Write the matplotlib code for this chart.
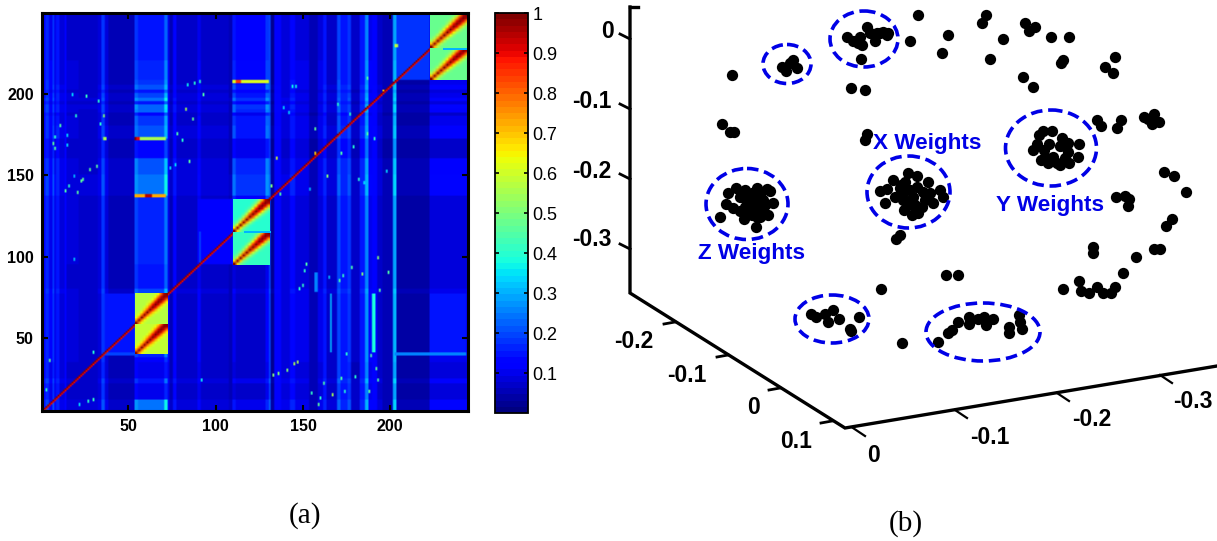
import numpy as np
import matplotlib
matplotlib.use('Agg')
import matplotlib.pyplot as plt
from matplotlib.patches import Ellipse

plt.rcParams['font.family'] = ['Liberation Sans', 'DejaVu Sans']

# heatmap background
col_starts = [1, 3, 5, 7, 8, 9, 11, 14, 15, 22, 33, 35, 37, 39, 54, 56, 71, 73, 74, 76, 78, 90, 92, 108, 110, 112,
              129, 132, 134, 138, 143, 146, 154, 159, 162, 164, 170, 172, 176, 178, 183, 186, 188, 190, 193, 196,
              202, 204, 223]
col_levels = [.13, .17, .11, .18, .1, .15, .09, .12, .08, .07, .09, .18, .09, .06, .2, .17, .26, .11, .06, .13, .075,
              .11, .075, .055, .17, .13, .2, .03, .12, .085, .14, .095, .05, .095, .15, .075, .2, .15, .18, .065,
              .15, .27, .11, .12, .075, .05, .3, .045, .095]
row_starts = [5, 12, 22, 25, 35, 39, 77, 80, 95, 137, 150, 160, 172, 180, 186, 188, 190, 193, 195, 197, 200, 202,
              205, 208, 220]
row_gains = [1.4, .9, 1.3, .85, 1, 1, 1.15, .9, .95, 1.4, 1.25, .75, 1.2, 1.1, .8, 1.3, 1.35, .85, 1.4, 1.15, .85,
             1.2, 1.05, 1, .9]
# columns where the row bands show at full strength; elsewhere they are faint
strong_x0 = [54, 110, 223]
strong_x1 = [73, 131, 245]
faint_share = .35

# regions that are darker (factor) or lighter (floor) than the bands give
dark_x0 = [110, 54]
dark_x1 = [131, 73]
dark_y0 = [5, 12]
dark_y1 = [95, 38]
dark_factor = [.6, .7]
floor_x0 = [36, 90, 203, 223]
floor_x1 = [54, 110, 223, 244]
floor_y0 = [40, 95, 208, 40]
floor_y1 = [77, 135, 250, 77]
floor_value = [.15, .12, .18, .15]

# blocks with a wedge along the diagonal
block_x0 = [54, 54, 110, 110, 223, 223]
block_x1 = [72.5, 72.5, 131, 131, 244.5, 244.5]
block_y0 = [40, 58.5, 95, 115, 208.5, 228.5]
block_y1 = [58.5, 77, 115, 135, 228.5, 249]
block_floor = [.58, .57, .41, .4, .47, .47]
wedge = [
    [1.0, .45, .15, .05, 0, 0, 0, 0, 0, 0, 0, 0],
    [.45, .95, .45, .15, .05, 0, 0, 0, 0, 0, 0, 0],
    [.15, .45, 1.0, .5, .2, .05, 0, 0, 0, 0, 0, 0],
    [.05, .15, .5, .95, .55, .25, .08, 0, 0, 0, 0, 0],
    [0, .05, .2, .55, 1.0, .6, .3, .1, .02, 0, 0, 0],
    [0, 0, .05, .25, .6, 1.0, .7, .35, .12, .03, 0, 0],
    [0, 0, 0, .08, .3, .7, 1.0, .75, .4, .15, .04, 0],
    [0, 0, 0, 0, .1, .35, .75, 1.0, .8, .45, .18, .05],
    [0, 0, 0, 0, .02, .12, .4, .8, 1.0, .85, .5, .2],
    [0, 0, 0, 0, 0, .03, .15, .45, .85, 1.0, .85, .55],
    [0, 0, 0, 0, 0, 0, .04, .18, .5, .85, 1.0, .9],
    [0, 0, 0, 0, 0, 0, 0, .05, .2, .55, .9, 1.0],
]

# thin bright row and column streaks
hstreak_y = [136, 171, 206, 39, 39, 115, 228]
hstreak_x0 = [54, 54, 110, 203, 36, 116, 230]
hstreak_x1 = [72, 72, 131, 244, 54, 131, 244]
hstreak_val = [.72, .56, .62, .26, .2, .3, .3]
hot_x = [60, 62, 54, 55, 112, 113]
hot_y = [136, 136, 171, 171, 206, 206]
hot_val = [.95, .95, 1.0, .9, .85, .85]
vstreak_x = [166, 190, 191, 91, 157, 158]
vstreak_y0 = [41, 41, 41, 95, 78, 78]
vstreak_y1 = [77, 77, 77, 115, 90, 90]
vstreak_val = [.3, .38, .38, .2, .25, .25]

# bright specks
spot_x = [26, 18, 20, 36, 11, 34, 36, 37, 7, 8, 8, 15, 15, 83, 87, 78, 81, 93, 84, 88, 91, 85, 77, 74, 32, 28, 24, 23,
          16, 21, 14, 19, 33, 144, 146, 139, 142, 157, 157, 135, 132, 137, 164, 172, 179, 177, 170, 187, 191, 187,
          196, 203, 204, 198, 185, 182, 154, 151, 152, 150, 148, 165, 171, 173, 184, 178, 193, 199, 194, 189, 192,
          193, 188, 174, 167, 162, 155, 160, 159, 172, 180, 133, 136, 141, 145, 147, 175, 5, 3, 30, 19, 92, 27, 30,
          22]
spot_y = [197, 198, 185, 185, 179, 180, 171, 171, 168, 165, 172, 173, 167, 189, 183, 174, 170, 198, 204, 205, 206,
          157, 155, 153, 154, 152, 146, 145, 142, 138, 139, 148, 194, 203, 203, 190, 187, 177, 162, 159, 142, 137,
          148, 162, 166, 186, 192, 174, 171, 208, 200, 228, 228, 151, 144, 146, 140, 90, 94, 81, 79, 86, 84, 87, 88,
          92, 98, 89, 78, 38, 30, 23, 16, 16, 14, 21, 15, 12, 8, 24, 25, 26, 27, 29, 33, 34, 39, 35, 17, 40, 97, 23,
          10, 11, 8]
spot_val = [.42, .34, .4, .5, .45, .4, .55, .55, .46, .44, .4, .34, .34, .55, .46, .44, .4, .44, .36, .4, .4, .46,
            .34, .34, .46, .46, .46, .46, .4, .46, .44, .3, .4, .36, .36, .34, .34, .46, .7, .6, .5, .44, .5, .44,
            .4, .4, .4, .44, .4, .44, .7, .6, .55, .34, .34, .4, .3, .42, .44, .42, .4, .3, .44, .42, .5, .44, .5,
            .44, .46, .44, .44, .44, .46, .4, .55, .44, .42, .4, .46, .44, .4, .5, .5, .5, .55, .55, .4, .46, .4, .4,
            .3, .36, .4, .42, .34]

cbar_ticks = [.1, .2, .3, .4, .5, .6, .7, .8, .9, 1]
cbar_labels = ['0.1', '0.2', '0.3', '0.4', '0.5', '0.6', '0.7', '0.8', '0.9', '1']
heat_ticks_x = [50, 100, 150, 200]
heat_ticks_y = [50, 100, 150, 200]

# right panel, the points as they lie in the projected picture
pts_x = [732, 722, 730, 734, 851, 865, 867, 865, 861,
         782, 786, 790, 793, 797,
         847, 853, 858, 862, 860, 867, 870, 875, 877, 883, 888, 880, 887,
         720, 728, 726, 736, 733, 740, 745, 757, 767, 748, 753, 740, 744, 757, 760, 768, 773, 756, 750, 763, 745,
         757, 752, 760, 770, 750, 755, 760, 748, 762, 752, 745, 765,
         918, 910, 948, 942, 986, 982, 1003, 990, 1025, 1035, 1029, 1051, 1069, 1023, 1033, 1063, 1061, 1115, 1105,
         1113, 1097, 1101, 1121, 1117, 1144, 1154, 1159, 1152, 1148, 1164, 1174, 1186, 1116, 1125, 1129, 1128, 1172,
         1166, 1093, 1093, 1154, 1160, 1136, 900, 896,
         1043, 1052, 1039, 1062, 1037, 1049, 1033, 1060, 1068, 1079, 1068, 1078, 1041, 1048, 1060, 1069, 1053, 1065,
         1057, 1045, 1044, 1066,
         893, 901, 908, 917, 928, 940, 943, 933, 885, 887, 880, 895, 903, 904, 912, 918, 922, 913, 925, 917, 923,
         930, 910, 903, 900, 908, 915, 905,
         881, 811, 816, 825, 833, 828, 839, 859, 850, 851,
         946, 958, 902, 938, 948, 952, 958, 969, 969, 978, 984, 986, 993, 1009, 1009, 1019, 1020, 1022,
         1063, 1079, 1081, 1089, 1097, 1103, 1111, 1115, 1123]
pts_y = [75, 124, 132, 132, 88, 90, 134, 140, 59,
         67, 71, 63, 60, 68,
         37, 41, 43, 45, 37, 27, 33, 41, 33, 32, 33, 33, 35,
         217, 193, 204, 188, 208, 197, 190, 188, 189, 200, 203, 211, 219, 217, 208, 215, 203, 227, 210, 200, 207,
         197, 193, 217, 191, 195, 205, 195, 212, 212, 215, 198, 205,
         15, 41, 35, 53, 15, 23, 39, 59, 23, 27, 31, 37, 37, 77, 87, 60, 63, 57, 67,
         73, 120, 126, 120, 128, 117, 114, 122, 124, 119, 172, 176, 192, 197, 196, 199, 206, 219,
         226, 247, 253, 249, 249, 257, 235, 239,
         131, 131, 135, 138, 144, 144, 150, 146, 143, 144, 152, 157, 160, 163, 165, 163, 157, 158,
         163, 157, 150, 147,
         180, 185, 173, 176, 182, 190, 197, 203, 203, 189, 191, 197, 200, 210, 215, 213, 207, 197, 200, 187, 192,
         193, 190, 193, 188, 205, 205, 182,
         289, 314, 317, 314, 310, 322, 319, 317, 329, 331,
         275, 275, 343, 342, 333, 330, 322, 317, 324, 319, 317, 325, 319, 327, 333, 315, 322, 329,
         289, 281, 291, 293, 287, 293, 293, 287, 273]

ring_x = [787, 864, 747, 908.5, 1051, 832, 983]
ring_y = [64, 39, 204, 192, 148, 319, 332]
ring_w = [48, 68, 82, 83, 91, 74, 114]
ring_h = [39, 56, 71, 72, 76, 48, 58]

name_labels = ['Z Weights', 'X Weights', 'Y Weights']
name_x = [752, 927, 1050]
name_y = [253, 143, 205]

z_ticks_y = [37, 107, 177, 247]
z_labels = ['0', '-0.1', '-0.2', '-0.3']
z_label_x = [607, 592, 592, 592]
z_label_y = [31, 101, 172, 240]
left_tick_x = [675, 728, 780, 832]
left_tick_y = [322, 355, 388, 421]
left_labels = ['-0.2', '-0.1', '0', '0.1']
left_label_x = [634, 687, 753, 796]
left_label_y = [342, 375, 407, 441]
right_tick_x = [853, 955, 1057, 1160]
right_tick_y = [428, 410, 393, 375]
right_labels = ['0', '-0.1', '-0.2', '-0.3']
right_label_x = [874, 990, 1092, 1193]
right_label_y = [455, 437, 419, 401]

# build the matrix
n = 244
col_line = np.array(col_levels)[np.searchsorted(col_starts, np.arange(1, n + 1), side='right') - 1]
row_line = np.array(row_gains)[np.searchsorted(row_starts, np.arange(n) + 5, side='right') - 1]
share = np.full(n, faint_share)
for x0, x1 in zip(strong_x0, strong_x1):
    share[x0 - 1:x1 - 1] = 1.0
M = np.outer(np.ones(n), col_line) * (1 + np.outer(row_line - 1, share))

for x0, x1, y0, y1, f in zip(dark_x0, dark_x1, dark_y0, dark_y1, dark_factor):
    M[y0 - 5:y1 - 5, x0 - 1:x1 - 1] *= f
for x0, x1, y0, y1, v in zip(floor_x0, floor_x1, floor_y0, floor_y1, floor_value):
    M[y0 - 5:y1 - 5, x0 - 1:x1 - 1] = np.maximum(M[y0 - 5:y1 - 5, x0 - 1:x1 - 1], v)
for x, y0, y1, v in zip(vstreak_x, vstreak_y0, vstreak_y1, vstreak_val):
    M[y0 - 5:y1 - 5, x - 1] = v
for y, x0, x1, v in zip(hstreak_y[:5], hstreak_x0[:5], hstreak_x1[:5], hstreak_val[:5]):
    M[y - 5:y - 3, x0 - 1:x1 - 1] = v
for x, y, v in zip(hot_x, hot_y, hot_val):
    M[y - 5:y - 3, x - 1:x + 1] = v
for x, y, v in zip(spot_x, spot_y, spot_val):
    M[y - 5:y - 3, x - 1] = v
for i in range(n):
    M[i, i] = 1.0
    M[i, min(i + 1, n - 1)] = 0.9

fig = plt.figure(figsize=(12.17, 5.41), dpi=100)

# (a) heatmap
ax = fig.add_axes([42 / 1217, 130 / 541, 426 / 1217, 398 / 541])
jet = plt.get_cmap('jet', 64)
im = ax.imshow(M, origin='lower', extent=(0.5, 244.5, 5, 250), aspect='auto', cmap=jet, vmin=0, vmax=1,
               interpolation='bilinear')
for x0, x1, y0, y1, f in zip(block_x0, block_x1, block_y0, block_y1, block_floor):
    cells = f + (1 - f) * np.array(wedge)
    ax.imshow(cells, origin='lower', extent=(x0, x1, y0, y1), aspect='auto', cmap=jet, vmin=0, vmax=1,
              interpolation='bilinear')
for y, x0, x1, v in zip(hstreak_y[5:], hstreak_x0[5:], hstreak_x1[5:], hstreak_val[5:]):
    ax.imshow([[v, v]], origin='lower', extent=(x0, x1, y - 0.5, y + 0.5), aspect='auto', cmap=jet, vmin=0, vmax=1)
ax.set_xlim(0.5, 244.5)
ax.set_ylim(5, 250)
ax.set_xticks(heat_ticks_x)
ax.set_yticks(heat_ticks_y)
ax.tick_params(direction='in', length=4, width=1.5, top=True, right=True, pad=6, labelsize=11.5)
for lab in ax.get_xticklabels() + ax.get_yticklabels():
    lab.set_fontweight('bold')
for s in ax.spines.values():
    s.set_linewidth(2.2)

cax = fig.add_axes([495 / 1217, 128 / 541, 33 / 1217, 400 / 541])
cb = fig.colorbar(im, cax=cax, ticks=cbar_ticks)
cb.ax.set_yticklabels(cbar_labels)
cb.ax.tick_params(direction='in', length=3, width=1.2, left=True, right=True, labelsize=13, pad=3)
cb.outline.set_linewidth(1.3)

# (b) projected scatter, whole figure in pixels
pan = fig.add_axes([0, 0, 1, 1])
pan.set_xlim(0, 1217)
pan.set_ylim(541, 0)
pan.axis('off')
pan.patch.set_alpha(0)

pan.scatter(pts_x, pts_y, s=66, c='black', linewidths=0, zorder=3)
for x, y, w, h in zip(ring_x, ring_y, ring_w, ring_h):
    pan.add_patch(Ellipse((x, y), w, h, fill=False, ec='#0000e6', lw=2.6, ls=(0, (3.2, 1.6)), zorder=4))
for s, x, y in zip(name_labels, name_x, name_y):
    pan.text(x, y, s, color='#0000e6', fontsize=16.2, fontweight='bold', ha='center', va='center', zorder=5)

pan.plot([630, 630, 845, 1217], [7, 293, 428, 366], color='black', lw=2.4, solid_joinstyle='miter', zorder=2)
pan.plot([630, 638], [7, 7], color='black', lw=2.4, zorder=2)
for y in z_ticks_y:
    pan.plot([620, 630], [y - 3, y + 2], color='black', lw=2)
for x, y in zip(left_tick_x, left_tick_y):
    pan.plot([x - 11, x], [y + 2, y], color='black', lw=2)
for x, y in zip(right_tick_x, right_tick_y):
    pan.plot([x, x + 12], [y, y + 8], color='black', lw=1.6)
for labs, lx, ly in [(z_labels, z_label_x, z_label_y), (left_labels, left_label_x, left_label_y),
                     (right_labels, right_label_x, right_label_y)]:
    for s, x, y in zip(labs, lx, ly):
        pan.text(x, y, s, fontsize=16.5, fontweight='bold', ha='center', va='center')

pan.text(305, 516, '(a)', family='Liberation Serif', fontsize=21, ha='center', va='center')
pan.text(906, 524, '(b)', family='Liberation Serif', fontsize=21, ha='center', va='center')

fig.savefig('out.png', dpi=100)
